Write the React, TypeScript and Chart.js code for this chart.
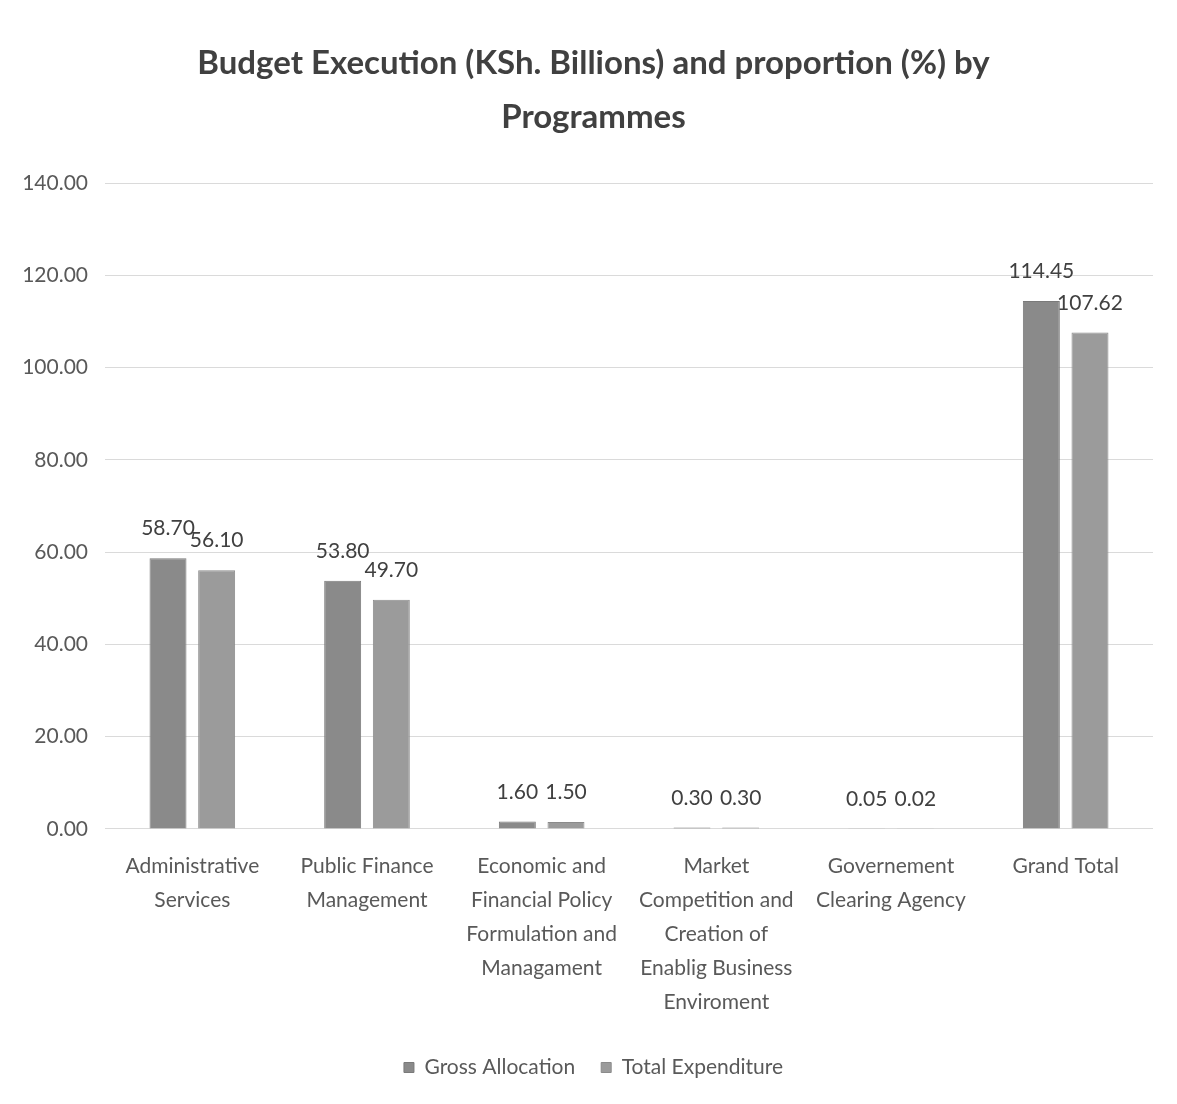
import React, { useEffect, useRef } from "react";
import { Chart, registerables } from "chart.js";

Chart.register(...registerables);

const categories: string[][] = [
  ["Administrative", "Services"],
  ["Public Finance", "Management"],
  ["Economic and", "Financial Policy", "Formulation and", "Managament"],
  ["Market", "Competition and", "Creation of", "Enablig Business", "Enviroment"],
  ["Governement", "Clearing Agency"],
  ["Grand Total"],
];
const grossAllocation = [58.7, 53.8, 1.6, 0.3, 0.05, 114.45];
const totalExpenditure = [56.1, 49.7, 1.5, 0.3, 0.02, 107.62];
const yTicks = [0, 20, 40, 60, 80, 100, 120, 140];

const FONT = "Lato, 'Open Sans', sans-serif";

const dataLabels = {
  id: "dataLabels",
  afterDatasetsDraw(chart: any) {
    const ctx = chart.ctx;
    ctx.save();
    ctx.font = `21px ${FONT}`;
    ctx.fillStyle = "#404040";
    ctx.textAlign = "center";
    ctx.textBaseline = "bottom";
    chart.data.datasets.forEach((ds: any, i: number) => {
      const meta = chart.getDatasetMeta(i);
      meta.data.forEach((bar: any, j: number) => {
        ctx.fillText(Number(ds.data[j]).toFixed(2), bar.x, bar.y - 19);
      });
    });
    ctx.restore();
  },
};

// shift title and legend horizontally to centre them like the reference
const shiftBlocks = {
  id: "shiftBlocks",
  afterLayout(chart: any) {
    const dx = 9;
    if (chart.titleBlock) {
      chart.titleBlock.left += dx;
      chart.titleBlock.right += dx;
    }
    if (chart.legend) {
      chart.legend.left += dx;
      chart.legend.right += dx;
    }
  },
};

export default function App() {
  const ref = useRef<HTMLCanvasElement>(null);
  useEffect(() => {
    if (!ref.current) return;
    const chart = new Chart(ref.current, {
      type: "bar",
      data: {
        labels: categories,
        datasets: [
          {
            label: "Gross Allocation",
            data: grossAllocation,
            backgroundColor: "#8a8a8a",
            borderColor: "#7a7a7a",
            borderWidth: 1,
            barPercentage: 0.76,
            categoryPercentage: 0.557,
          },
          {
            label: "Total Expenditure",
            data: totalExpenditure,
            backgroundColor: "#9b9b9b",
            borderColor: "#8b8b8b",
            borderWidth: 1,
            barPercentage: 0.76,
            categoryPercentage: 0.557,
          },
        ],
      },
      options: {
        animation: false,
        responsive: true,
        maintainAspectRatio: false,
        layout: { padding: { left: 16, right: 24, top: 0, bottom: 16 } },
        plugins: {
          title: {
            display: true,
            text: ["Budget Execution (KSh. Billions) and proportion (%) by", "Programmes"],
            color: "#404040",
            font: { family: FONT, size: 33, weight: "bold", lineHeight: 1.64 },
            padding: { top: 36, bottom: 39 },
          },
          legend: {
            position: "bottom",
            labels: {
              color: "#595959",
              font: { family: FONT, size: 21 },
              boxWidth: 10,
              boxHeight: 10,
              padding: 26,
            },
          },
          tooltip: { enabled: false },
        },
        scales: {
          x: {
            grid: { display: false },
            border: { display: false },
            ticks: {
              color: "#595959",
              font: { family: FONT, size: 21, lineHeight: 1.62 },
              maxRotation: 0,
              autoSkip: false,
              padding: 12,
            },
          },
          y: {
            min: 0,
            max: 140,
            afterBuildTicks: (s: any) => {
              s.ticks = yTicks.map((v) => ({ value: v }));
            },
            afterFit: (s: any) => {
              s.width = 89;
            },
            grid: { color: "#dadada", lineWidth: 1, drawTicks: false },
            border: { display: false },
            ticks: {
              color: "#595959",
              font: { family: FONT, size: 21 },
              padding: 17,
              callback: (v: any) => Number(v).toFixed(2),
            },
          },
        },
      },
      plugins: [dataLabels, shiftBlocks],
    });
    return () => chart.destroy();
  }, []);
  return (
    <div style={{ position: "fixed", left: 0, top: 0, width: 1177, height: 1104, background: "#fff" }}>
      <canvas ref={ref} />
    </div>
  );
}
